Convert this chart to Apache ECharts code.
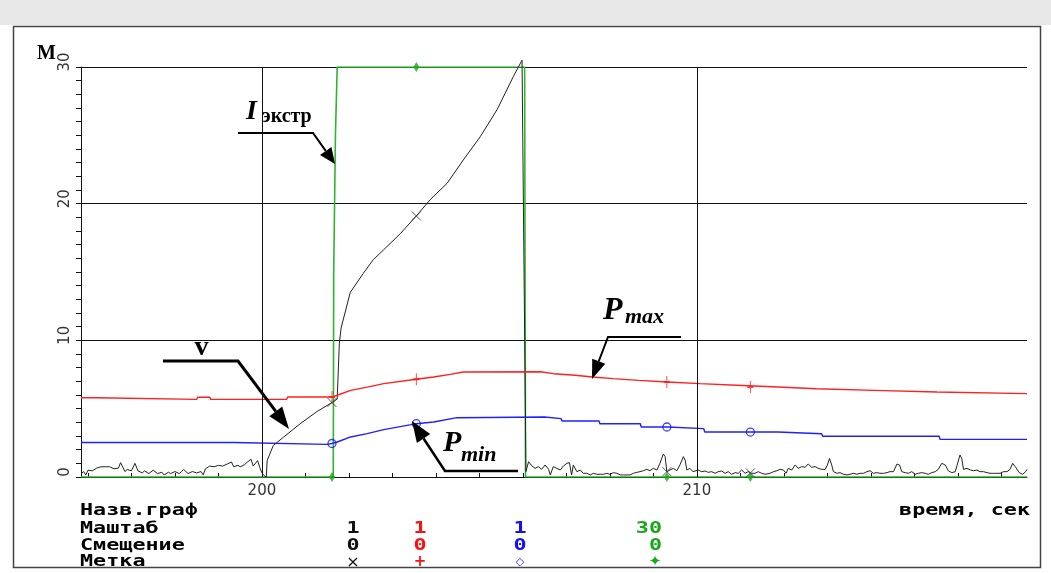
<!DOCTYPE html>
<html>
<head>
<meta charset="utf-8">
<script src="https://cdn.jsdelivr.net/npm/echarts@6/dist/echarts.min.js"></script>
<style>html,body{margin:0;padding:0;background:#fff}#c{width:1051px;height:573px}</style>
</head>
<body>
<div id="c"></div>
<script>
// ---------- data ----------
const xMin = 195.84, xMax = 217.59;
const xLabelValues = [200, 210];
const xTickValues = [196,197,198,199,200,201,202,203,204,205,206,207,208,209,210,211,212,213,214,215,216,217];
const xGridValues = [200, 210];
const yTickLabels = [0, 10, 20, 30];

// v (black)
const vNoiseBefore = [[195.85,0.25],[195.9,0.4],[195.95,0.15],[196.0,0.5],[196.1,0.45],[196.2,0.65],[196.3,0.75],[196.4,0.75],[196.5,0.75],[196.6,0.6],[196.7,0.65],[196.75,1.05],[196.85,0.4],[196.9,0.55],[197.0,0.45],[197.08,1.0],[197.15,0.45],[197.25,0.3],[197.3,0.45],[197.4,0.25],[197.5,0.5],[197.6,0.25],[197.7,0.35],[197.75,0.15],[197.85,0.35],[197.9,0.25],[198.0,0.4],[198.1,0.25],[198.15,0.4],[198.2,0.55],[198.3,0.25],[198.4,0.4],[198.5,0.3],[198.6,0.4],[198.65,0.15],[198.7,0.6],[198.8,0.8],[198.9,0.75],[199.0,0.85],[199.1,0.8],[199.2,0.95],[199.3,1.1],[199.35,0.75],[199.45,0.85],[199.5,0.75],[199.6,0.9],[199.65,1.05],[199.75,1.3],[199.8,0.8],[199.9,1.2],[199.95,0.7],[200.0,0.3],[200.05,0.1],[200.1,0.0]];
const vRise = [[200.12,1.2],[200.26,2.3],[200.49,2.9],[200.88,3.9],[201.27,4.8],[201.64,5.5],[201.73,5.7],[201.78,9.8],[201.82,10.9],[202.03,13.5],[202.33,14.9],[202.56,15.9],[202.79,16.6],[203.18,17.8],[203.55,19.1],[203.87,20.3],[204.26,21.5],[204.63,23.2],[205.02,24.9],[205.41,26.9],[205.78,29.3],[205.98,30.5],[206.07,0.4]];
const vNoiseAfter = [[206.13,1.12],[206.21,0.8],[206.28,0.63],[206.36,0.76],[206.43,0.56],[206.51,0.88],[206.59,0.56],[206.63,0.15],[206.70,0.76],[206.78,0.63],[206.86,0.51],[206.93,0.8],[207.01,1.0],[207.07,1.05],[207.12,0.15],[207.16,0.88],[207.24,0.39],[207.32,0.51],[207.39,0.27],[207.47,0.27],[207.55,0.15],[207.62,0.27],[207.70,0.2],[207.78,0.2],[207.85,0.2],[207.93,0.27],[208.0,0.2],[208.08,0.32],[208.16,0.27],[208.24,0.15],[208.31,0.15],[208.39,0.15],[208.46,0.15],[208.54,0.27],[208.62,0.34],[208.69,0.39],[208.77,0.46],[208.85,0.56],[208.92,0.46],[209.0,0.63],[209.08,0.51],[209.15,1.0],[209.23,1.68],[209.27,1.49],[209.31,0.39],[209.38,0.51],[209.46,0.63],[209.54,0.46],[209.61,0.88],[209.69,1.49],[209.73,1.24],[209.77,0.51],[209.84,0.63],[209.91,0.39],[209.95,0.27],[210.03,0.51],[210.11,0.39],[210.19,0.44],[210.26,0.34],[210.34,0.39],[210.42,0.27],[210.49,0.39],[210.57,0.44],[210.65,0.27],[210.72,0.39],[210.80,0.2],[210.88,0.32],[210.95,0.27],[211.03,0.51],[211.11,0.27],[211.18,0.39],[211.26,0.27],[211.34,0.27],[211.41,0.39],[211.49,0.27],[211.57,0.2],[211.68,0.27],[211.76,0.39],[211.84,0.46],[211.91,0.56],[211.99,0.51],[212.05,0.27],[212.10,0.63],[212.18,0.51],[212.26,0.88],[212.33,0.63],[212.41,0.76],[212.49,0.71],[212.56,0.95],[212.64,0.71],[212.72,0.76],[212.79,0.63],[212.87,0.56],[212.95,0.56],[213.0,0.88],[213.05,1.36],[213.10,0.88],[213.14,0.39],[213.22,0.27],[213.29,0.32],[213.37,0.2],[213.45,0.15],[213.52,0.2],[213.60,0.27],[213.68,0.2],[213.75,0.27],[213.83,0.27],[213.91,0.39],[213.98,0.46],[214.06,0.27],[214.14,0.32],[214.21,0.27],[214.29,0.27],[214.37,0.32],[214.44,0.39],[214.52,0.39],[214.60,0.95],[214.66,0.88],[214.71,0.39],[214.79,0.32],[214.86,0.27],[214.94,0.39],[215.02,0.2],[215.09,0.27],[215.17,0.32],[215.25,0.27],[215.32,0.2],[215.40,0.32],[215.48,0.39],[215.55,0.56],[215.63,1.0],[215.71,0.88],[215.78,0.46],[215.86,0.32],[215.94,0.39],[215.99,0.95],[216.05,1.61],[216.09,1.36],[216.13,0.56],[216.21,0.63],[216.29,0.51],[216.36,0.46],[216.44,0.51],[216.51,0.39],[216.59,0.39],[216.67,0.32],[216.74,0.27],[216.82,0.27],[216.90,0.27],[216.97,0.27],[217.05,0.39],[217.13,0.39],[217.20,0.56],[217.26,1.0],[217.33,0.71],[217.41,0.32],[217.49,0.2],[217.56,0.39],[217.59,0.56]];
const vMarks = [[201.61,5.45],[203.55,19.1],[209.31,0.39],[211.23,0.3]];

// P max (red)
const pMaxData = [[195.84,5.8],[196.2,5.8],[196.21,5.68],[198.5,5.68],[198.52,5.83],[198.8,5.83],[198.82,5.68],[200.57,5.68],[200.59,5.85],[201.61,5.85],[201.73,5.98],[202.04,6.34],[202.42,6.58],[202.8,6.83],[203.55,7.15],[203.95,7.32],[204.33,7.51],[204.63,7.68],[206.4,7.7],[206.42,7.56],[206.7,7.56],[206.72,7.44],[207.2,7.44],[207.22,7.32],[207.6,7.32],[207.62,7.2],[208.07,7.2],[208.09,7.07],[208.66,7.07],[208.68,6.95],[209.32,6.95],[209.34,6.83],[210.07,6.83],[210.09,6.7],[211.05,6.7],[211.07,6.58],[211.87,6.58],[211.89,6.46],[212.75,6.46],[212.77,6.34],[214.08,6.34],[214.1,6.22],[215.52,6.22],[215.54,6.1],[217.59,6.1]];
const pMaxMarks = [[201.61,5.85],[203.55,7.15],[209.31,6.95],[211.23,6.58]];

// P min (blue)
const pMinData = [[195.84,2.52],[199.35,2.52],[199.37,2.39],[201.5,2.39],[201.61,2.45],[201.73,2.56],[202.04,2.93],[202.42,3.17],[202.8,3.47],[203.43,3.83],[203.55,3.9],[203.95,4.02],[204.48,4.34],[206.5,4.39],[206.52,4.27],[206.88,4.27],[206.9,4.1],[207.75,4.1],[207.77,3.9],[208.7,3.9],[208.72,3.66],[209.33,3.66],[209.35,3.54],[210.16,3.54],[210.18,3.29],[211.86,3.29],[211.88,3.17],[212.87,3.17],[212.89,2.98],[215.57,2.98],[215.59,2.75],[217.59,2.75]];
const pMinMarks = [[201.61,2.45],[203.55,3.9],[209.31,3.66],[211.23,3.29]];

// I экстр (green, scale 30)
const iData = [[195.84,0],[201.64,0],[201.65,14.9],[201.69,25],[201.73,30],[206.04,30],[206.06,0],[217.59,0]];
const iMarks = [[201.61,0],[203.55,30],[209.31,0],[211.23,0]];

// table texts
const tableRows = ['Назв.граф', 'Маштаб', 'Смещение', 'Метка'];
const scaleValues = ['1', '1', '1', '30'];
const offsetValues = ['0', '0', '0', '0'];
const markSymbols = ['×', '+', '◇', '✦'];
const seriesColors = ['#111111', '#ff1010', '#1010ff', '#18a818'];

// ---------- chart ----------
const chart = echarts.init(document.getElementById('c'), null, {renderer: 'canvas'});

const crossPath = 'path://M0,0L10,10M10,0L0,10';
const plusPath = 'path://M3,0L3,12M0,6L6,6';

function arrow(pts, lw, headLen, headW) {
  const n = pts.length, tip = pts[n - 1], prev = pts[n - 2];
  const dx = tip[0] - prev[0], dy = tip[1] - prev[1], L = Math.hypot(dx, dy);
  const ux = dx / L, uy = dy / L;
  const base = [tip[0] - ux * headLen, tip[1] - uy * headLen];
  const left = [base[0] - uy * headW, base[1] + ux * headW];
  const right = [base[0] + uy * headW, base[1] - ux * headW];
  return [
    {type: 'polyline', z: 100, silent: true, shape: {points: pts.slice(0, n - 1).concat([base])}, style: {stroke: '#000', lineWidth: lw, fill: null}},
    {type: 'polygon', z: 100, silent: true, shape: {points: [tip, left, right]}, style: {fill: '#000'}}
  ];
}
function txt(x, y, text, font, fill, align, extra) {
  return Object.assign({type: 'text', x: x, y: y, z: 100, silent: true,
    style: {text: text, font: font, fill: fill, align: align || 'left', verticalAlign: 'middle'}}, extra || {});
}

const serif = '"Liberation Serif", "DejaVu Serif", serif';
const mono = 'bold 15px "DejaVu Sans Mono", monospace';
const sx = 1.45;
const rowY = [511.5, 529, 546, 562.5];
const colX = [353, 420, 520, 655];

const graphics = [
  {type: 'rect', z: -10, silent: true, shape: {x: 0, y: 0, width: 1051, height: 25}, style: {fill: '#e8e8e8'}},
  {type: 'rect', z: -10, silent: true, shape: {x: 13.5, y: 26.5, width: 1027, height: 541}, style: {fill: null, stroke: '#444', lineWidth: 1.5}},
  txt(37, 53.5, 'M', 'bold 20px ' + serif, '#000'),
  // annotations
  txt(246, 111.5, 'I', 'italic bold 28px ' + serif, '#000'),
  txt(262, 117, 'экстр', 'bold 20px ' + serif, '#000'),
  txt(201.5, 348, 'v', 'bold 28px ' + serif, '#000', 'center'),
  txt(603, 311, 'P', 'italic bold 32px ' + serif, '#000'),
  txt(625, 317, 'max', 'italic bold 22px ' + serif, '#000'),
  txt(443, 443.5, 'P', 'italic bold 30px ' + serif, '#000'),
  txt(461, 455, 'min', 'italic bold 22px ' + serif, '#000')
]
.concat(arrow([[238, 133], [313, 133], [335, 164]], 2, 16, 7))
.concat(arrow([[163, 361], [238, 361], [289, 429]], 3, 22, 8))
.concat(arrow([[681, 337], [608, 337], [592, 379]], 2, 19, 7))
.concat(arrow([[518, 471], [445, 471], [412, 421]], 2.5, 21, 8));

// table
tableRows.forEach(function (r, i) {
  graphics.push(txt(80, rowY[i], r, mono, '#000', 'left', {scaleX: sx}));
});
graphics.push(txt(1030, rowY[0], 'время, сек', mono, '#000', 'right', {scaleX: sx}));
scaleValues.forEach(function (v, i) {
  graphics.push(txt(i === 3 ? 662 : colX[i], rowY[1], v, mono, seriesColors[i], i === 3 ? 'right' : 'center', {scaleX: sx}));
});
offsetValues.forEach(function (v, i) {
  graphics.push(txt(i === 3 ? 662 : colX[i], rowY[2], v, mono, seriesColors[i], i === 3 ? 'right' : 'center', {scaleX: sx}));
});
markSymbols.forEach(function (v, i) {
  const font = i === 0 ? '16px "DejaVu Sans", sans-serif' : (i === 2 ? 'bold 11px "DejaVu Sans", sans-serif' : 'bold 15px "DejaVu Sans", sans-serif');
  graphics.push(txt(colX[i], rowY[3], v, font, seriesColors[i], 'center'));
});

const option = {
  backgroundColor: '#ffffff',
  animation: false,
  grid: {left: 81, right: 24, top: 67, bottom: 96, containLabel: false},
  xAxis: {
    type: 'value', min: xMin, max: xMax,
    axisLine: {show: true, lineStyle: {color: '#111', width: 1}},
    axisTick: {show: true, inside: true, length: 4, customValues: xTickValues, lineStyle: {color: '#111'}},
    axisLabel: {show: true, customValues: xLabelValues, color: '#333', fontSize: 15, fontFamily: 'DejaVu Sans', margin: 7},
    splitLine: {show: false}
  },
  yAxis: {
    type: 'value', min: 0, max: 30, interval: 10,
    axisLine: {show: true, lineStyle: {color: '#111', width: 1}},
    axisTick: {show: true, inside: false, length: 5, lineStyle: {color: '#111'}},
    minorTick: {show: true, splitNumber: 10, length: 5, lineStyle: {color: '#111'}},
    axisLabel: {show: true, rotate: 90, color: '#333', fontSize: 15, fontFamily: 'DejaVu Sans', margin: 8, padding: [0, 0, 0, 10],
      formatter: function (v) { return yTickLabels.indexOf(v) >= 0 ? String(v) : ''; }},
    splitLine: {show: true, lineStyle: {color: '#111', width: 1}}
  },
  graphic: graphics,
  series: [
    {type: 'line', z: 1, data: [], silent: true,
      markLine: {silent: true, symbol: ['none', 'none'], label: {show: false}, animation: false,
        lineStyle: {color: '#111', width: 1, type: 'solid'},
        data: xGridValues.map(function (v) { return {xAxis: v}; })}},
    {name: 'I', type: 'line', z: 2, data: iData, showSymbol: false, silent: true,
      lineStyle: {color: '#2db52d', width: 1.6}},
    {name: 'v', type: 'line', z: 3, clip: false, data: vNoiseBefore.concat(vRise, vNoiseAfter), showSymbol: false, silent: true,
      lineStyle: {color: '#222', width: 1}},
    {name: 'Pmax', type: 'line', z: 4, data: pMaxData, showSymbol: false, silent: true,
      lineStyle: {color: '#ff2020', width: 1.4}},
    {name: 'Pmin', type: 'line', z: 4, data: pMinData, showSymbol: false, silent: true,
      lineStyle: {color: '#2020ff', width: 1.4}},
    {type: 'scatter', z: 5, data: iMarks, symbol: 'diamond', symbolSize: [6, 10], silent: true,
      itemStyle: {color: '#18a818'}},
    {type: 'scatter', z: 5, data: vMarks, symbol: crossPath, symbolSize: 9, silent: true,
      itemStyle: {color: 'rgba(0,0,0,0)', borderColor: '#333', borderWidth: 1}},
    {type: 'scatter', z: 5, data: pMaxMarks, symbol: plusPath, symbolSize: [6, 12], silent: true,
      itemStyle: {color: 'rgba(0,0,0,0)', borderColor: '#ff1010', borderWidth: 1.3}},
    {type: 'scatter', z: 5, data: pMinMarks, symbol: 'circle', symbolSize: 8, silent: true,
      itemStyle: {color: 'rgba(0,0,0,0)', borderColor: '#1010ff', borderWidth: 1.3}}
  ]
};
chart.setOption(option);
</script>
</body>
</html>
